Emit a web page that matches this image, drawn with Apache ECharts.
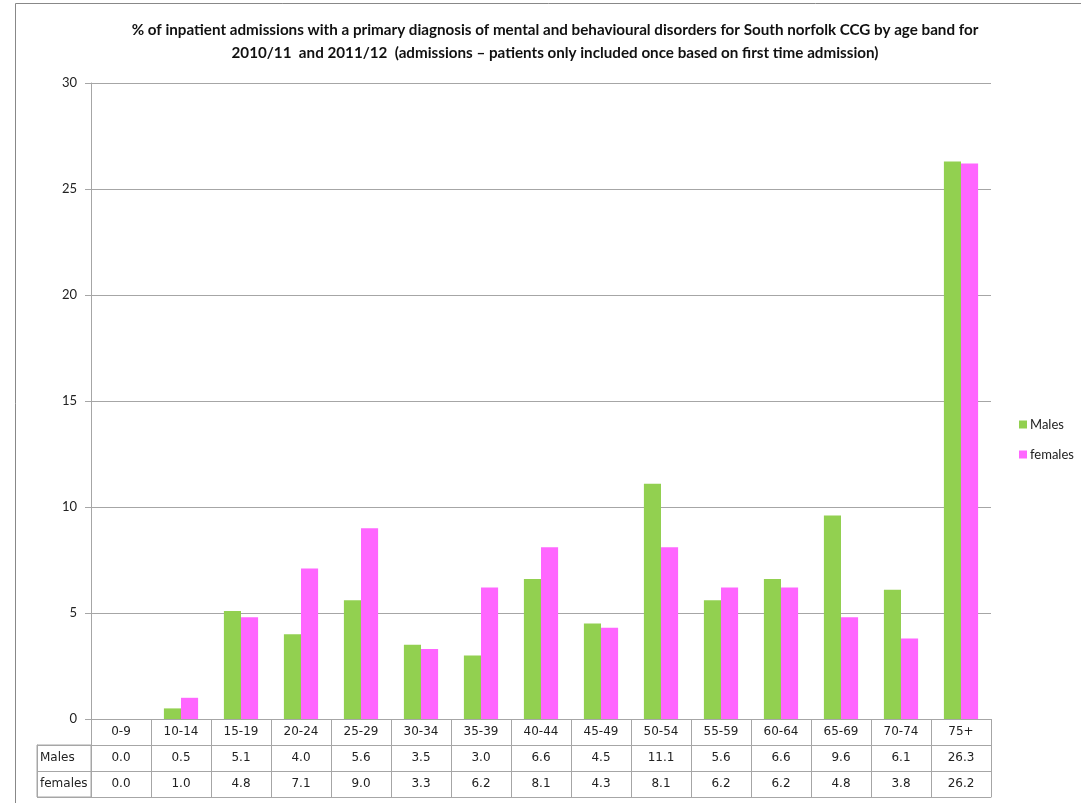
<!DOCTYPE html>
<html>
<head>
<meta charset="utf-8">
<script src="https://cdn.jsdelivr.net/npm/echarts@6/dist/echarts.min.js"></script>
<style>html,body{margin:0;padding:0;background:#fff}#c{width:1081px;height:803px}</style>
</head>
<body>
<div id="c"></div>
<script>
var categories = ['0-9','10-14','15-19','20-24','25-29','30-34','35-39','40-44','45-49','50-54','55-59','60-64','65-69','70-74','75+'];
var males = [0.0,0.5,5.1,4.0,5.6,3.5,3.0,6.6,4.5,11.1,5.6,6.6,9.6,6.1,26.3];
var females = [0.0,1.0,4.8,7.1,9.0,3.3,6.2,8.1,4.3,8.1,6.2,6.2,4.8,3.8,26.2];
var seriesNames = ['Males','females'];
var yMin = 0, yMax = 30, yStep = 5;
var titleLines = ['% of inpatient admissions with a primary diagnosis of mental and behavioural disorders for South norfolk CCG by age band for',
                  '2010/11  and 2011/12  (admissions \u2013 patients only included once based on first time admission)'];

var lineCol = '#a6a6a6';
var tableFont = 'DejaVu Sans';
var labelFont = 'Lato';
var ROW = 26;

function rowAxis(offset, formatter, showLabel) {
  return {
    type: 'category', gridIndex: 0, position: 'bottom', offset: offset,
    data: categories,
    axisLine: {show: true, lineStyle: {color: lineCol}},
    axisTick: {show: showLabel, length: ROW, interval: 0, lineStyle: {color: lineCol}},
    axisLabel: {show: showLabel, interval: 0, margin: 7, color: '#222', fontSize: 12, fontFamily: tableFont, formatter: formatter},
    splitLine: {show: false}
  };
}

var chart = echarts.init(document.getElementById('c'), null, {renderer: 'canvas'});
chart.setOption({
  animation: false,
  backgroundColor: '#fff',
  title: {
    text: titleLines.join('\n'),
    left: 550, top: 14, textAlign: 'center',
    textStyle: {fontFamily: labelFont, fontWeight: 'bold', fontSize: 15.2, color: '#111', lineHeight: 23}
  },
  legend: {
    orient: 'vertical', left: 1014, top: 413,
    itemWidth: 8, itemHeight: 8, itemGap: 17,
    icon: 'rect',
    textStyle: {fontFamily: labelFont, fontSize: 13, color: '#222', padding: [0,0,0,-2]},
    data: seriesNames
  },
  graphic: [{
    type: 'rect', left: 13, top: 1, shape: {width: 1200, height: 900},
    style: {fill: 'none', stroke: '#888', lineWidth: 1}, silent: true
  }],
  grid: [
    {left: 91, right: 90, top: 83, bottom: 84, outerBoundsMode: 'none'},
    {left: 37, top: 745, width: 54, height: 2 * ROW, show: true, borderColor: lineCol, borderWidth: 1, backgroundColor: 'transparent', outerBoundsMode: 'none'}
  ],
  xAxis: [
    rowAxis(0, function (v) { return v; }, true),
    rowAxis(ROW, function (v, i) { return males[i].toFixed(1); }, true),
    rowAxis(2 * ROW, function (v, i) { return females[i].toFixed(1); }, true),
    rowAxis(3 * ROW, null, false),
    {type: 'value', gridIndex: 1, show: false}
  ],
  yAxis: [
    {
      type: 'value', gridIndex: 0, min: yMin, max: yMax, interval: yStep,
      axisLine: {show: true, lineStyle: {color: lineCol}},
      axisTick: {show: true, length: 6, lineStyle: {color: lineCol}},
      axisLabel: {color: '#222', fontSize: 13, fontFamily: labelFont, margin: 14},
      splitLine: {show: true, lineStyle: {color: lineCol}}
    },
    {
      type: 'category', gridIndex: 1, inverse: true, data: seriesNames,
      axisLine: {show: true, lineStyle: {color: lineCol}},
      axisTick: {show: false},
      axisLabel: {inside: true, margin: 3, color: '#222', fontSize: 12, fontFamily: tableFont},
      splitLine: {show: true, interval: 0, lineStyle: {color: lineCol}}
    }
  ],
  series: [
    {name: seriesNames[0], type: 'bar', xAxisIndex: 0, yAxisIndex: 0, data: males,
     itemStyle: {color: '#92d050'}, barGap: '0%', barCategoryGap: '43%'},
    {name: seriesNames[1], type: 'bar', xAxisIndex: 0, yAxisIndex: 0, data: females,
     itemStyle: {color: '#ff66ff'}, barGap: '0%', barCategoryGap: '43%'}
  ]
});
</script>
</body>
</html>
